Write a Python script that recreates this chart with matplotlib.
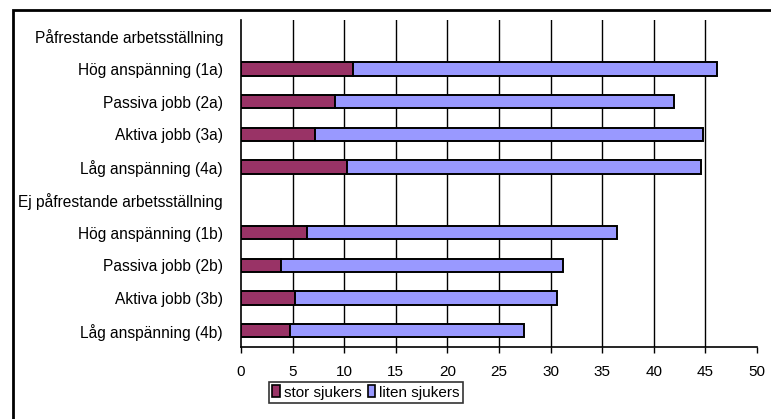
import matplotlib
matplotlib.use("Agg")
import matplotlib.pyplot as plt
from matplotlib.patches import Rectangle, Patch

plt.rcParams['font.family'] = ['Liberation Sans', 'DejaVu Sans']

categories = [
    "Påfrestande arbetsställning",
    "Hög anspänning (1a)",
    "Passiva jobb (2a)",
    "Aktiva jobb (3a)",
    "Låg anspänning (4a)",
    "Ej påfrestande arbetsställning",
    "Hög anspänning (1b)",
    "Passiva jobb (2b)",
    "Aktiva jobb (3b)",
    "Låg anspänning (4b)",
]
# None = header row without bars
stor_sjukers = [None, 10.9, 9.1, 7.2, 10.3, None, 6.4, 3.9, 5.2, 4.7]
liten_sjukers = [None, 35.2, 32.9, 37.6, 34.3, None, 30.0, 27.3, 25.4, 22.7]
xticks = [0, 5, 10, 15, 20, 25, 30, 35, 40, 45, 50]
series_names = ["stor sjukers", "liten sjukers"]

c_stor = "#993366"
c_liten = "#9999FF"

fig = plt.figure(figsize=(7.71, 4.19), dpi=100)
ax = fig.add_axes([241/771, 1-347/419, (757-241)/771, (347-20)/419])

ypos = list(range(len(categories)))
for y, s, l in zip(ypos, stor_sjukers, liten_sjukers):
    if s is None:
        continue
    ax.barh(y, s, height=0.41, color=c_stor, edgecolor="black", linewidth=1.4, zorder=3)
    ax.barh(y, l, left=s, height=0.41, color=c_liten, edgecolor="black", linewidth=1.4, zorder=3)

ax.set_yticks(ypos)
ax.set_yticklabels(categories, fontsize=11.2)
ax.set_ylim(len(categories)-0.5, -0.5)
ax.set_xlim(0, 50)
ax.set_xticks(xticks)
ax.set_xticklabels([str(t) for t in xticks], fontsize=11)
ax.tick_params(axis='y', length=0, pad=13)
ax.tick_params(axis='x', length=4, width=1, direction='out', pad=9)

for t in xticks[1:-1]:
    ax.axvline(t, color="black", linewidth=1, zorder=1)

for side in ["top", "right"]:
    ax.spines[side].set_visible(False)
ax.spines["left"].set_linewidth(1.2)
ax.spines["bottom"].set_linewidth(1.2)

handles = [Patch(facecolor=c_stor, edgecolor="black", linewidth=1.2),
           Patch(facecolor=c_liten, edgecolor="black", linewidth=1.2)]
leg = fig.legend(handles, series_names, loc="center", bbox_to_anchor=(366/771, 1-392.5/419),
                 ncol=2, fontsize=11, frameon=True, fancybox=False, edgecolor="black",
                 handlelength=0.5, handleheight=0.8, handletextpad=0.25, columnspacing=0.4,
                 borderpad=0.2, borderaxespad=0)
leg.get_frame().set_linewidth(1.2)

fig.add_artist(Rectangle((13/771, -0.1), 1.2, 1.1 - 10/419, transform=fig.transFigure,
                         fill=False, edgecolor="black", linewidth=2))

fig.savefig("out.png", dpi=100)
